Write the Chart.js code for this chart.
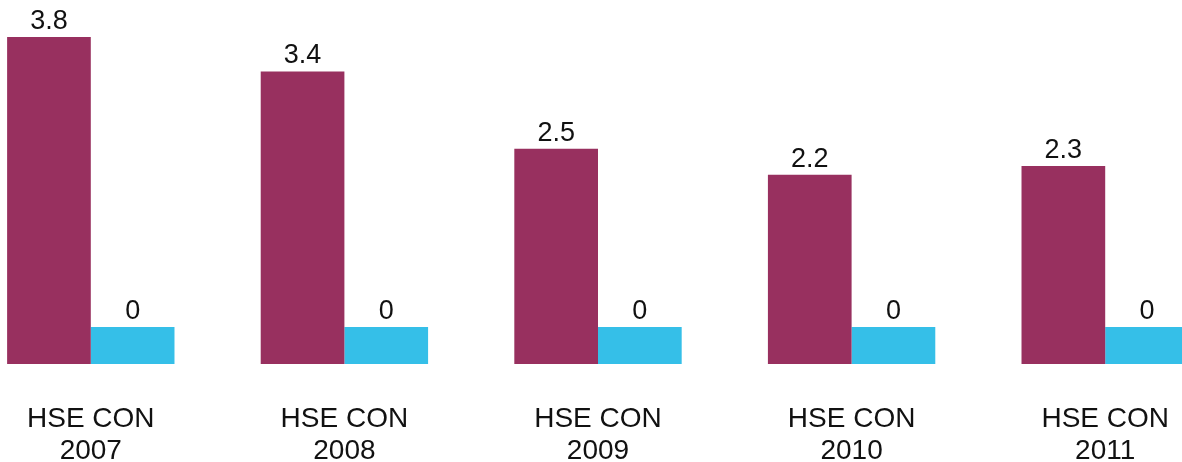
<!DOCTYPE html>
<html>
<head>
<meta charset="utf-8">
<script src="https://cdn.jsdelivr.net/npm/chart.js@4/dist/chart.umd.min.js"></script>
<style>
  html, body { margin: 0; padding: 0; background: #fff; overflow: hidden; width: 1182px; height: 462px; }
  #wrap { position: absolute; left: -36px; top: 0; width: 1268px; height: 462px; }
</style>
</head>
<body>
<div id="wrap"><canvas id="c" width="1268" height="462"></canvas></div>
<script>
const categories = ['2007', '2008', '2009', '2010', '2011'];
const tickPrefix = 'HSE CON';
const hseValues = [3.8, 3.4, 2.5, 2.2, 2.3];
const conValues = [0, 0, 0, 0, 0];

const labels = categories.map(y => [tickPrefix, y]);

const valueLabels = {
  id: 'valueLabels',
  afterDatasetsDraw(chart) {
    const ctx = chart.ctx;
    ctx.save();
    ctx.font = '27px "Liberation Sans", Arial, sans-serif';
    ctx.fillStyle = '#111';
    ctx.textAlign = 'center';
    ctx.textBaseline = 'alphabetic';
    chart.data.datasets.forEach((ds, i) => {
      const meta = chart.getDatasetMeta(i);
      meta.data.forEach((el, j) => {
        ctx.fillText(String(ds.data[j]), el.x, el.y - 8);
      });
    });
    ctx.restore();
  }
};

new Chart(document.getElementById('c'), {
  type: 'bar',
  data: {
    labels: labels,
    datasets: [
      { label: 'HSE', data: hseValues, backgroundColor: '#98305F', borderWidth: 0 },
      { label: 'CON', data: conValues, backgroundColor: '#35BFE8', borderWidth: 0, minBarLength: 37 }
    ]
  },
  options: {
    responsive: false,
    animation: false,
    devicePixelRatio: 1,
    layout: { padding: 0 },
    datasets: { bar: { categoryPercentage: 0.66, barPercentage: 1.0 } },
    plugins: { legend: { display: false }, tooltip: { enabled: false } },
    scales: {
      x: {
        grid: { display: false, drawTicks: false },
        border: { display: false },
        ticks: {
          color: '#111',
          font: { family: '"Liberation Sans", Arial, sans-serif', size: 28, lineHeight: 1.15 },
          padding: 39,
          maxRotation: 0,
          autoSkip: false
        },
        afterFit(scale) { scale.height = 98; }
      },
      y: {
        display: false,
        min: 0,
        max: 4.23
      }
    }
  },
  plugins: [valueLabels]
});
</script>
</body>
</html>
